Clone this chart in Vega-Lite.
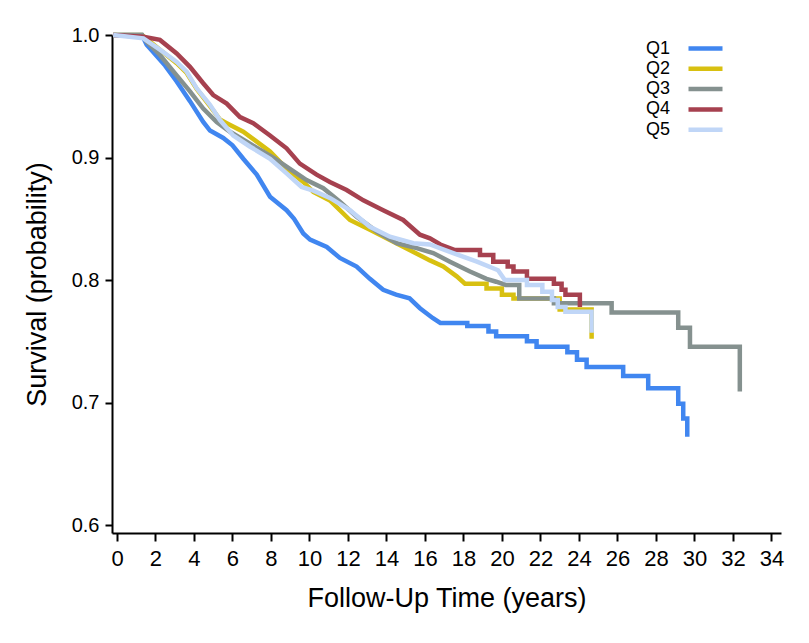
{
  "$schema": "https://vega.github.io/schema/vega-lite/v6.json",
  "width": 669,
  "height": 498,
  "autosize": {"type": "none"},
  "padding": {"left": 112, "top": 35, "right": 28, "bottom": 110},
  "background": "white",
  "config": {
    "view": {"stroke": null},
    "axis": {"domainColor": "black", "domainWidth": 2, "tickColor": "black", "tickWidth": 2, "labelColor": "black", "titleColor": "black", "grid": false, "titleFontWeight": "normal"}
  },
  "data": {
    "values": [
      {"g": "Q1", "t": -0.2, "s": 1}, {"g": "Q1", "t": 1.3, "s": 1}, {"g": "Q1", "t": 1.54, "s": 0.992}, {"g": "Q1", "t": 1.89, "s": 0.986}, {"g": "Q1", "t": 2.5, "s": 0.975}, {"g": "Q1", "t": 3.1, "s": 0.962}, {"g": "Q1", "t": 3.79, "s": 0.946}, {"g": "Q1", "t": 4.48, "s": 0.929}, {"g": "Q1", "t": 4.83, "s": 0.922}, {"g": "Q1", "t": 5.52, "s": 0.916}, {"g": "Q1", "t": 6.0, "s": 0.91}, {"g": "Q1", "t": 6.56, "s": 0.899}, {"g": "Q1", "t": 7.26, "s": 0.886}, {"g": "Q1", "t": 7.95, "s": 0.868}, {"g": "Q1", "t": 8.81, "s": 0.857}, {"g": "Q1", "t": 9.2, "s": 0.85}, {"g": "Q1", "t": 9.68, "s": 0.838}, {"g": "Q1", "t": 10.03, "s": 0.833}, {"g": "Q1", "t": 10.9, "s": 0.827}, {"g": "Q1", "t": 11.58, "s": 0.818}, {"g": "Q1", "t": 12.45, "s": 0.811}, {"g": "Q1", "t": 13.14, "s": 0.801}, {"g": "Q1", "t": 13.83, "s": 0.792}, {"g": "Q1", "t": 14.5, "s": 0.788}, {"g": "Q1", "t": 15.2, "s": 0.785}, {"g": "Q1", "t": 15.74, "s": 0.777}, {"g": "Q1", "t": 16.4, "s": 0.769}, {"g": "Q1", "t": 16.8, "s": 0.765}, {"g": "Q1", "t": 18.2, "s": 0.765}, {"g": "Q1", "t": 18.2, "s": 0.7625}, {"g": "Q1", "t": 19.3, "s": 0.7625}, {"g": "Q1", "t": 19.3, "s": 0.758}, {"g": "Q1", "t": 19.7, "s": 0.758}, {"g": "Q1", "t": 19.7, "s": 0.754}, {"g": "Q1", "t": 21.3, "s": 0.754}, {"g": "Q1", "t": 21.3, "s": 0.75}, {"g": "Q1", "t": 21.8, "s": 0.75}, {"g": "Q1", "t": 21.8, "s": 0.7455}, {"g": "Q1", "t": 23.4, "s": 0.7455}, {"g": "Q1", "t": 23.4, "s": 0.741}, {"g": "Q1", "t": 23.9, "s": 0.741}, {"g": "Q1", "t": 23.9, "s": 0.735}, {"g": "Q1", "t": 24.4, "s": 0.735}, {"g": "Q1", "t": 24.4, "s": 0.729}, {"g": "Q1", "t": 26.3, "s": 0.729}, {"g": "Q1", "t": 26.3, "s": 0.7216}, {"g": "Q1", "t": 27.6, "s": 0.7216}, {"g": "Q1", "t": 27.6, "s": 0.7116}, {"g": "Q1", "t": 29.16, "s": 0.7116}, {"g": "Q1", "t": 29.16, "s": 0.699}, {"g": "Q1", "t": 29.42, "s": 0.699}, {"g": "Q1", "t": 29.42, "s": 0.687}, {"g": "Q1", "t": 29.63, "s": 0.687}, {"g": "Q1", "t": 29.63, "s": 0.672},

      {"g": "Q2", "t": -0.2, "s": 1}, {"g": "Q2", "t": 1.3, "s": 1}, {"g": "Q2", "t": 2.23, "s": 0.988}, {"g": "Q2", "t": 3.1, "s": 0.977}, {"g": "Q2", "t": 3.62, "s": 0.969}, {"g": "Q2", "t": 4.14, "s": 0.956}, {"g": "Q2", "t": 4.83, "s": 0.942}, {"g": "Q2", "t": 5.35, "s": 0.931}, {"g": "Q2", "t": 5.7, "s": 0.928}, {"g": "Q2", "t": 6.56, "s": 0.921}, {"g": "Q2", "t": 7.26, "s": 0.913}, {"g": "Q2", "t": 7.95, "s": 0.905}, {"g": "Q2", "t": 8.81, "s": 0.891}, {"g": "Q2", "t": 9.68, "s": 0.88}, {"g": "Q2", "t": 10.2, "s": 0.872}, {"g": "Q2", "t": 11.06, "s": 0.865}, {"g": "Q2", "t": 12.1, "s": 0.849}, {"g": "Q2", "t": 13.14, "s": 0.841}, {"g": "Q2", "t": 14.18, "s": 0.8327}, {"g": "Q2", "t": 15.2, "s": 0.8245}, {"g": "Q2", "t": 16.26, "s": 0.816}, {"g": "Q2", "t": 16.95, "s": 0.811}, {"g": "Q2", "t": 17.65, "s": 0.803}, {"g": "Q2", "t": 18.08, "s": 0.797}, {"g": "Q2", "t": 19.2, "s": 0.797}, {"g": "Q2", "t": 19.2, "s": 0.793}, {"g": "Q2", "t": 20.0, "s": 0.793}, {"g": "Q2", "t": 20.0, "s": 0.788}, {"g": "Q2", "t": 20.6, "s": 0.788}, {"g": "Q2", "t": 20.6, "s": 0.785}, {"g": "Q2", "t": 23.0, "s": 0.785}, {"g": "Q2", "t": 23.0, "s": 0.776}, {"g": "Q2", "t": 24.66, "s": 0.776}, {"g": "Q2", "t": 24.66, "s": 0.752},

      {"g": "Q3", "t": -0.2, "s": 1}, {"g": "Q3", "t": 1.3, "s": 1}, {"g": "Q3", "t": 1.54, "s": 0.9945}, {"g": "Q3", "t": 2.23, "s": 0.9837}, {"g": "Q3", "t": 3.1, "s": 0.967}, {"g": "Q3", "t": 3.79, "s": 0.954}, {"g": "Q3", "t": 4.48, "s": 0.94}, {"g": "Q3", "t": 5.18, "s": 0.929}, {"g": "Q3", "t": 5.87, "s": 0.921}, {"g": "Q3", "t": 6.74, "s": 0.913}, {"g": "Q3", "t": 7.6, "s": 0.9047}, {"g": "Q3", "t": 8.2, "s": 0.899}, {"g": "Q3", "t": 8.81, "s": 0.8925}, {"g": "Q3", "t": 9.85, "s": 0.8816}, {"g": "Q3", "t": 10.72, "s": 0.875}, {"g": "Q3", "t": 11.58, "s": 0.864}, {"g": "Q3", "t": 12.45, "s": 0.8517}, {"g": "Q3", "t": 13.5, "s": 0.8395}, {"g": "Q3", "t": 14.53, "s": 0.83}, {"g": "Q3", "t": 15.57, "s": 0.826}, {"g": "Q3", "t": 16.43, "s": 0.822}, {"g": "Q3", "t": 17.3, "s": 0.815}, {"g": "Q3", "t": 18.34, "s": 0.807}, {"g": "Q3", "t": 19.2, "s": 0.801}, {"g": "Q3", "t": 19.7, "s": 0.7986}, {"g": "Q3", "t": 20.2, "s": 0.796}, {"g": "Q3", "t": 20.9, "s": 0.796}, {"g": "Q3", "t": 20.9, "s": 0.785}, {"g": "Q3", "t": 22.7, "s": 0.785}, {"g": "Q3", "t": 22.7, "s": 0.781}, {"g": "Q3", "t": 25.7, "s": 0.781}, {"g": "Q3", "t": 25.7, "s": 0.7734}, {"g": "Q3", "t": 29.16, "s": 0.7734}, {"g": "Q3", "t": 29.16, "s": 0.761}, {"g": "Q3", "t": 29.77, "s": 0.761}, {"g": "Q3", "t": 29.77, "s": 0.7456}, {"g": "Q3", "t": 32.36, "s": 0.7456}, {"g": "Q3", "t": 32.36, "s": 0.709},

      {"g": "Q4", "t": -0.2, "s": 1}, {"g": "Q4", "t": 1.37, "s": 0.9986}, {"g": "Q4", "t": 2.23, "s": 0.996}, {"g": "Q4", "t": 3.1, "s": 0.985}, {"g": "Q4", "t": 3.79, "s": 0.974}, {"g": "Q4", "t": 4.48, "s": 0.9606}, {"g": "Q4", "t": 5.0, "s": 0.951}, {"g": "Q4", "t": 5.7, "s": 0.944}, {"g": "Q4", "t": 6.39, "s": 0.933}, {"g": "Q4", "t": 7.08, "s": 0.928}, {"g": "Q4", "t": 7.95, "s": 0.918}, {"g": "Q4", "t": 8.81, "s": 0.9075}, {"g": "Q4", "t": 9.5, "s": 0.895}, {"g": "Q4", "t": 10.37, "s": 0.886}, {"g": "Q4", "t": 11.06, "s": 0.88}, {"g": "Q4", "t": 11.93, "s": 0.8735}, {"g": "Q4", "t": 12.8, "s": 0.865}, {"g": "Q4", "t": 13.83, "s": 0.857}, {"g": "Q4", "t": 14.87, "s": 0.849}, {"g": "Q4", "t": 15.74, "s": 0.837}, {"g": "Q4", "t": 16.26, "s": 0.834}, {"g": "Q4", "t": 16.8, "s": 0.829}, {"g": "Q4", "t": 17.56, "s": 0.8245}, {"g": "Q4", "t": 18.86, "s": 0.8245}, {"g": "Q4", "t": 18.86, "s": 0.8204}, {"g": "Q4", "t": 19.55, "s": 0.8204}, {"g": "Q4", "t": 19.55, "s": 0.815}, {"g": "Q4", "t": 20.3, "s": 0.815}, {"g": "Q4", "t": 20.3, "s": 0.811}, {"g": "Q4", "t": 20.6, "s": 0.811}, {"g": "Q4", "t": 20.6, "s": 0.807}, {"g": "Q4", "t": 21.3, "s": 0.807}, {"g": "Q4", "t": 21.3, "s": 0.801}, {"g": "Q4", "t": 22.7, "s": 0.801}, {"g": "Q4", "t": 22.7, "s": 0.797}, {"g": "Q4", "t": 23.1, "s": 0.797}, {"g": "Q4", "t": 23.1, "s": 0.792}, {"g": "Q4", "t": 23.3, "s": 0.792}, {"g": "Q4", "t": 23.3, "s": 0.788}, {"g": "Q4", "t": 24.05, "s": 0.788}, {"g": "Q4", "t": 24.05, "s": 0.778},

      {"g": "Q5", "t": -0.2, "s": 1}, {"g": "Q5", "t": 1.37, "s": 0.9973}, {"g": "Q5", "t": 2.23, "s": 0.988}, {"g": "Q5", "t": 3.1, "s": 0.978}, {"g": "Q5", "t": 3.62, "s": 0.97}, {"g": "Q5", "t": 4.14, "s": 0.9565}, {"g": "Q5", "t": 4.83, "s": 0.943}, {"g": "Q5", "t": 5.35, "s": 0.9306}, {"g": "Q5", "t": 6.04, "s": 0.918}, {"g": "Q5", "t": 6.9, "s": 0.909}, {"g": "Q5", "t": 7.95, "s": 0.899}, {"g": "Q5", "t": 8.81, "s": 0.887}, {"g": "Q5", "t": 9.59, "s": 0.876}, {"g": "Q5", "t": 10.2, "s": 0.873}, {"g": "Q5", "t": 11.06, "s": 0.867}, {"g": "Q5", "t": 12.1, "s": 0.857}, {"g": "Q5", "t": 13.14, "s": 0.8435}, {"g": "Q5", "t": 14.18, "s": 0.8354}, {"g": "Q5", "t": 15.4, "s": 0.83}, {"g": "Q5", "t": 16.26, "s": 0.829}, {"g": "Q5", "t": 17.47, "s": 0.822}, {"g": "Q5", "t": 18.7, "s": 0.815}, {"g": "Q5", "t": 19.8, "s": 0.808}, {"g": "Q5", "t": 20.15, "s": 0.8}, {"g": "Q5", "t": 21.3, "s": 0.8}, {"g": "Q5", "t": 21.3, "s": 0.796}, {"g": "Q5", "t": 22.1, "s": 0.796}, {"g": "Q5", "t": 22.1, "s": 0.7905}, {"g": "Q5", "t": 22.6, "s": 0.7905}, {"g": "Q5", "t": 22.6, "s": 0.7837}, {"g": "Q5", "t": 22.9, "s": 0.7837}, {"g": "Q5", "t": 22.9, "s": 0.778}, {"g": "Q5", "t": 23.3, "s": 0.778}, {"g": "Q5", "t": 23.3, "s": 0.774}, {"g": "Q5", "t": 24.66, "s": 0.774}, {"g": "Q5", "t": 24.66, "s": 0.757}
    ]
  },
  "mark": {"type": "line", "strokeWidth": 4.5, "strokeJoin": "miter", "strokeCap": "butt"},
  "encoding": {
    "x": {
      "field": "t", "type": "quantitative",
      "scale": {"domain": [-0.26, 34.5], "nice": false, "zero": false},
      "axis": {
        "values": [0, 2, 4, 6, 8, 10, 12, 14, 16, 18, 20, 22, 24, 26, 28, 30, 32, 34],
        "title": "Follow-Up Time (years)",
        "titleFont": "Liberation Sans, Arial, sans-serif",
        "titleFontSize": 27, "titlePadding": 16,
        "labelFont": "Liberation Sans, Arial, sans-serif",
        "labelFontSize": 22, "labelPadding": 7, "tickSize": 8, "labelFlush": false
      }
    },
    "y": {
      "field": "s", "type": "quantitative",
      "scale": {"domain": [0.5935, 1.0], "nice": false, "zero": false},
      "axis": {
        "values": [0.6, 0.7, 0.8, 0.9, 1.0], "format": ".1f",
        "title": "Survival (probability)",
        "titleFont": "Liberation Sans, Arial, sans-serif",
        "titleFontSize": 27, "titlePadding": 20,
        "labelFont": "Liberation Sans, Arial, sans-serif",
        "labelFontSize": 20, "labelPadding": 6, "tickSize": 7, "labelFlush": false
      }
    },
    "color": {
      "field": "g", "type": "nominal",
      "scale": {"domain": ["Q1", "Q2", "Q3", "Q4", "Q5"], "range": ["#4086F0", "#D8C010", "#85918F", "#A6414F", "#C0D6F7"]},
      "legend": {
        "title": null, "orient": "none", "legendX": 582.5, "legendY": 2.5,
        "symbolType": "M-2,0H2", "symbolSize": 289, "symbolStrokeWidth": 4.5, "symbolFillColor": "transparent",
        "labelAlign": "right", "labelOffset": -46.5,
        "labelFont": "Liberation Sans, Arial, sans-serif", "labelFontSize": 18, "labelColor": "black",
        "rowPadding": 0.3, "padding": 0
      }
    },
    "order": {"value": null}
  }
}
